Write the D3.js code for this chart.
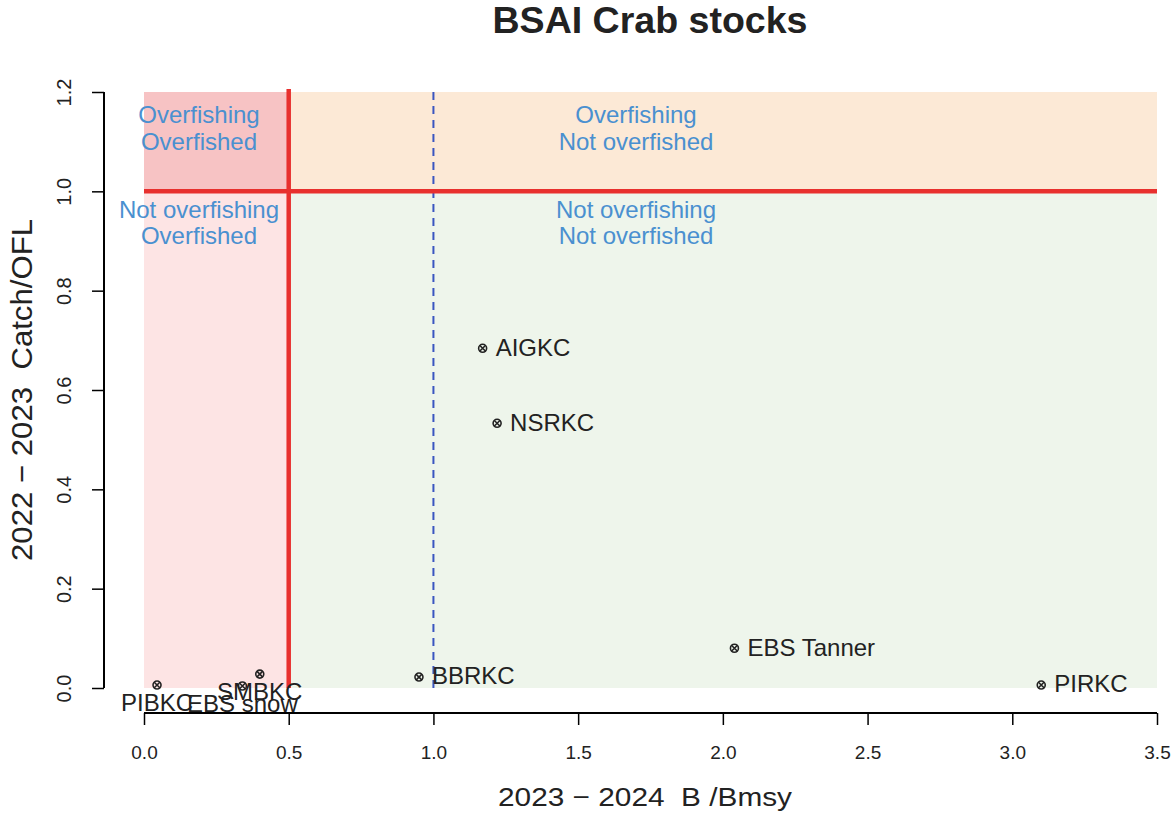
<!DOCTYPE html>
<html>
<head>
<meta charset="utf-8">
<style>
  body { margin: 0; background: #fff; }
  text { font-family: "Liberation Sans", Arial, sans-serif; white-space: pre; }
</style>
</head>
<body>
<svg width="1173" height="815"></svg>
<script src="https://d3js.org/d3.v7.min.js"></script>
<script>
// stocks: B/Bmsy (x) and Catch/OFL (y)
const stocks = ['PIBKC', 'EBS snow', 'SMBKC', 'BBRKC', 'AIGKC', 'NSRKC', 'EBS Tanner', 'PIRKC']
const bBmsy = [0.045, 0.34, 0.40, 0.95, 1.17, 1.22, 2.04, 3.10]
const catchOfl = [0.006, 0.004, 0.028, 0.022, 0.684, 0.533, 0.080, 0.006]
const labelPos = ['below', 'below', 'below', 'right', 'right', 'right', 'right', 'right']
const xTicks = [0, 0.5, 1, 1.5, 2, 2.5, 3, 3.5]
const yTicks = [0, 0.2, 0.4, 0.6, 0.8, 1.0, 1.2]

const svg = d3.select('svg')
const x = d3.scaleLinear().domain([0, 3.5]).range([144, 1157])
const y = d3.scaleLinear().domain([0, 1.2]).range([688, 92])

// quadrant backgrounds
const quads = [
  { x0: 0, x1: 0.5, y0: 0, y1: 1, fill: '#fde4e4' },
  { x0: 0, x1: 0.5, y0: 1, y1: 1.2, fill: '#f7c3c4' },
  { x0: 0.5, x1: 3.5, y0: 1, y1: 1.2, fill: '#fce9d6' },
  { x0: 0.5, x1: 3.5, y0: 0, y1: 1, fill: '#eef5eb' }
]
svg.selectAll('rect.q').data(quads).enter().append('rect')
  .attr('x', d => x(d.x0)).attr('width', d => x(d.x1) - x(d.x0))
  .attr('y', d => y(d.y1)).attr('height', d => y(d.y0) - y(d.y1))
  .attr('fill', d => d.fill)

// reference lines
svg.append('line')
  .attr('x1', x(1)).attr('x2', x(1)).attr('y1', y(1.2)).attr('y2', y(0))
  .attr('stroke', '#3a55c0').attr('stroke-width', 2).attr('stroke-dasharray', '8,6')
svg.append('line')
  .attr('x1', x(0)).attr('x2', x(3.5)).attr('y1', y(1)).attr('y2', y(1))
  .attr('stroke', '#e8302e').attr('stroke-width', 4.5)
svg.append('line')
  .attr('x1', x(0.5)).attr('x2', x(0.5)).attr('y1', y(1.2) - 3).attr('y2', y(0))
  .attr('stroke', '#e8302e').attr('stroke-width', 4.5)

// quadrant text (baselines)
const qText = [
  { cx: 0.19, cy: 1.1375, t: 'Overfishing' }, { cx: 0.19, cy: 1.083, t: 'Overfished' },
  { cx: 1.70, cy: 1.1375, t: 'Overfishing' }, { cx: 1.70, cy: 1.083, t: 'Not overfished' },
  { cx: 0.19, cy: 0.946, t: 'Not overfishing' }, { cx: 0.19, cy: 0.894, t: 'Overfished' },
  { cx: 1.70, cy: 0.946, t: 'Not overfishing' }, { cx: 1.70, cy: 0.894, t: 'Not overfished' }
]
svg.selectAll('text.q').data(qText).enter().append('text')
  .attr('x', d => x(d.cx)).attr('y', d => y(d.cy))
  .attr('text-anchor', 'middle')
  .attr('font-size', 24).attr('fill', '#4a90d0')
  .text(d => d.t)

// axes
const xAxis = svg.append('g').attr('transform', 'translate(0,713)')
  .call(d3.axisBottom(x).tickValues(xTicks).tickFormat(d3.format('.1f')).tickSize(12).tickPadding(21))
xAxis.select('.domain').attr('d', `M${x(0)},0H${x(3.5)}`).attr('stroke-width', 2)
xAxis.selectAll('.tick line').attr('stroke-width', 1.5)
xAxis.selectAll('text').attr('font-size', 19).attr('fill', '#222')
  .attr('font-family', '"Liberation Sans", Arial, sans-serif')

const yAxis = svg.append('g').attr('transform', 'translate(104,0)')
  .call(d3.axisLeft(y).tickValues(yTicks).tickFormat(d3.format('.1f')).tickSize(12).tickPadding(14))
yAxis.select('.domain').attr('d', `M0,${y(1.2)}V${y(0)}`).attr('stroke-width', 2)
yAxis.selectAll('.tick line').attr('stroke-width', 1.5)
yAxis.selectAll('text').attr('font-size', 20).attr('fill', '#222')
  .attr('font-family', '"Liberation Sans", Arial, sans-serif')
  .attr('text-anchor', 'middle').attr('dy', null)
  .attr('transform', 'rotate(-90)').attr('x', 0)
  .attr('y', -33)

// points
const data = stocks.map((s, i) => ({ s, bx: bBmsy[i], cy: catchOfl[i], pos: labelPos[i] }))
const pts = svg.selectAll('g.pt').data(data).enter().append('g')
  .attr('transform', d => `translate(${x(d.bx)},${y(d.cy)})`)
pts.append('circle').attr('r', 4).attr('fill', 'none').attr('stroke', '#222').attr('stroke-width', 1.6)
pts.append('path').attr('d', 'M-3,-3L3,3M-3,3L3,-3').attr('stroke', '#222').attr('stroke-width', 1.6)
pts.append('text')
  .attr('x', d => d.pos === 'right' ? 13 : 0)
  .attr('y', d => d.pos === 'right' ? -1 : 18)
  .attr('dy', '0.35em')
  .attr('text-anchor', d => d.pos === 'right' ? 'start' : 'middle')
  .attr('font-size', 24).attr('fill', '#222')
  .text(d => d.s)

// titles
svg.append('text').attr('x', 650).attr('y', 33).attr('text-anchor', 'middle')
  .attr('font-size', 36).attr('font-weight', 'bold').attr('fill', '#222')
  .attr('textLength', 315).attr('lengthAdjust', 'spacingAndGlyphs')
  .text('BSAI Crab stocks')
svg.append('text').attr('x', 645).attr('y', 806).attr('text-anchor', 'middle')
  .attr('font-size', 26).attr('fill', '#222')
  .attr('textLength', 294).attr('lengthAdjust', 'spacingAndGlyphs')
  .text('2023 \u2212 2024  B /Bmsy')
svg.append('text').attr('transform', 'translate(32,390) rotate(-90)').attr('text-anchor', 'middle')
  .attr('font-size', 30).attr('fill', '#222')
  .attr('textLength', 342).attr('lengthAdjust', 'spacingAndGlyphs')
  .text('2022 \u2212 2023  Catch/OFL')
</script>
</body>
</html>
